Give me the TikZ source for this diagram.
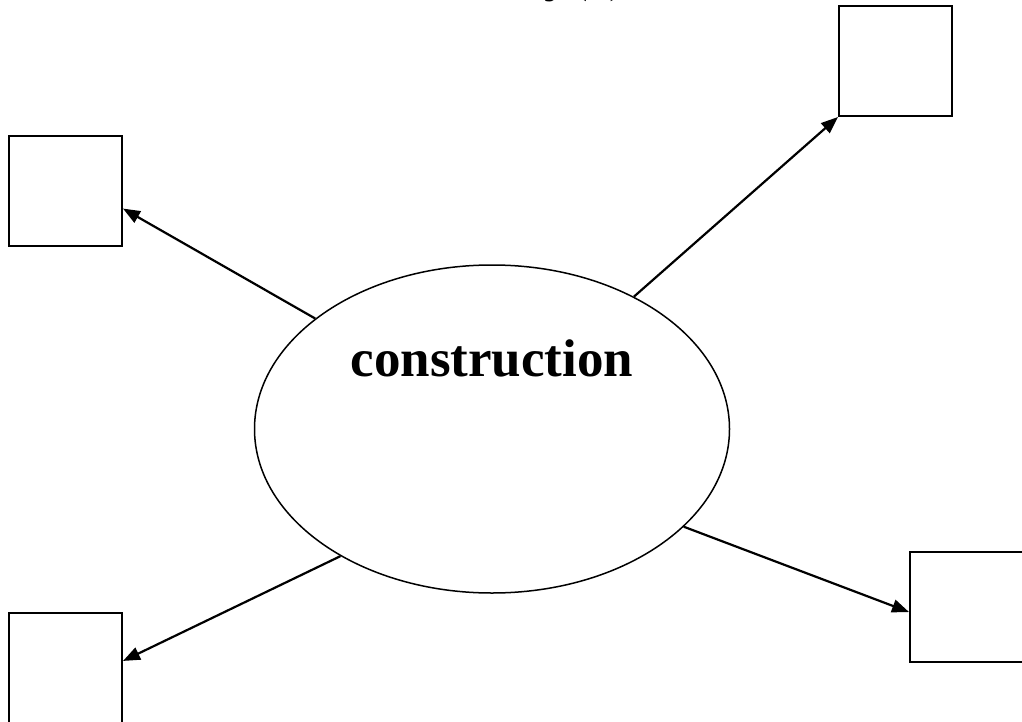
\documentclass[tikz,border=0pt]{standalone}
\usepackage{fontspec}
\setmainfont{Liberation Serif}
\usetikzlibrary{shapes.geometric,arrows.meta}
\tikzset{
  box/.style={draw=black, line width=2pt, minimum width=113pt, minimum height=110pt, inner sep=0pt, anchor=north west},
  centre/.style={draw=black, line width=1.5pt, ellipse, minimum width=475pt, minimum height=328pt, inner sep=0pt},
  arr/.style={line width=2.2pt, -{Triangle[length=17pt,width=13pt]}},
  big/.style={font=\fontsize{53}{60}\selectfont\bfseries, inner sep=0pt}
}
\begin{document}
\begin{tikzpicture}[x=1pt,y=-1pt]
\useasboundingbox (0,0) rectangle (1022,722);
\node[centre] (el) at (492,429) {};
\node[big, anchor=base] (lbl) at (492,376) {construction};
\node[big, anchor=base east] (ttl) at (627,-9) {y(s)};
\node[box] (tr) at (838,5) {};
\node[box] (ul) at (8,135) {};
\node[box] (br) at (909,551) {};
\node[box] (bl) at (8,612) {};
\draw[arr] (el.148) -- (ul.-17.7);
\draw[arr] (el.43.5) -- (tr.south west);
\draw[arr] (el.220) -- (bl.7.1);
\draw[arr] (el.333.6) -- (br.185.1);
\end{tikzpicture}
\end{document}
